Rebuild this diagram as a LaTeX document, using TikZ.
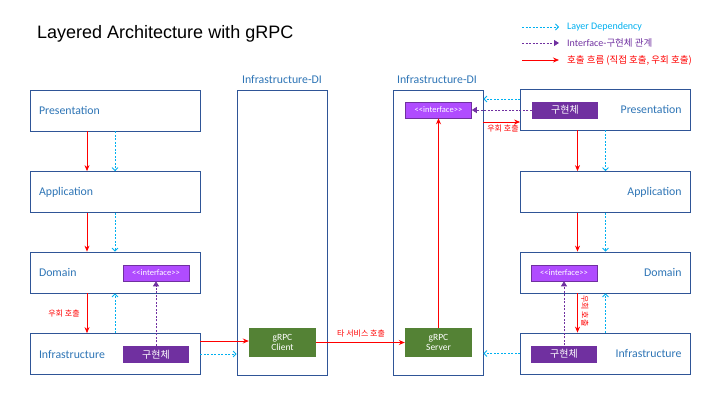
\documentclass[tikz,border=0pt]{standalone}
\usepackage{fontspec}
\setmainfont{Carlito}
\newfontfamily\titlefont{Liberation Sans}
\newfontfamily\kr{Noto Sans CJK KR}
\usetikzlibrary{arrows.meta}
\definecolor{boxborder}{HTML}{2F5597}
\definecolor{lblue}{HTML}{2E75B6}
\definecolor{dcyan}{HTML}{00B0F0}
\definecolor{dred}{HTML}{FF0000}
\definecolor{dpurple}{HTML}{7030A0}
\definecolor{lpurple}{HTML}{B04CFF}
\definecolor{dgreen}{HTML}{548235}
\tikzset{
  layerL/.style={draw=boxborder, line width=0.8pt, minimum width=170pt, minimum height=41pt,
    text width=152pt, align=left, inner xsep=9pt, font=\fontsize{11.8}{13}\selectfont, text=lblue},
  layerR/.style={layerL, align=right},
  dibox/.style={draw=boxborder, line width=0.8pt, minimum width=90pt, minimum height=285pt, inner sep=0pt},
  dilabel/.style={font=\fontsize{11.8}{13}\selectfont, text=lblue},
  iface/.style={draw=dpurple, line width=0.6pt, fill=lpurple, minimum width=66pt, minimum height=16pt, inner sep=0pt,
    text=white, font=\fontsize{8.5}{9}\selectfont},
  impl/.style={fill=dpurple, minimum width=66pt, minimum height=17pt, inner sep=0pt, text=white, font=\kr\fontsize{10}{11}\selectfont},
  grpc/.style={fill=dgreen, minimum width=67pt, minimum height=29pt, inner sep=0pt, text=white, align=center,
    font=\fontsize{9.5}{10.5}\selectfont},
  redarr/.style={draw=dred, line width=0.8pt, -{Stealth[length=6pt,width=5pt]}},
  cyanarr/.style={draw=dcyan, line width=0.8pt, dash pattern=on 2pt off 1.5pt, -{Straight Barb[length=3pt,width=6pt]}},
  purparr/.style={draw=dpurple, line width=0.8pt, dash pattern=on 2pt off 1.5pt, -{Triangle[length=5pt,width=6pt]}},
  redlbl/.style={text=dred, font=\kr\fontsize{8}{9}\selectfont, inner sep=1pt},
  leglbl/.style={anchor=west, font=\fontsize{10}{11}\selectfont, inner sep=0pt}
}
\begin{document}
\begin{tikzpicture}[x=1pt,y=-1pt]
\useasboundingbox[fill=white] (0,0) rectangle (720,405);

% title
\node[anchor=west, inner sep=0pt, font=\titlefont\fontsize{18}{21}\selectfont] (title) at (37,34) {Layered Architecture with gRPC};

% legend
\coordinate (l1s) at (522,27); \coordinate (l1e) at (559,27);
\coordinate (l2s) at (522,43); \coordinate (l2e) at (559,43);
\coordinate (l3s) at (522,60); \coordinate (l3e) at (559,60);
\draw[cyanarr] (l1s) -- (l1e);
\draw[purparr] (l2s) -- (l2e);
\draw[redarr] (l3s) -- (l3e);
\node[leglbl, text=dcyan] (lt1) at (567,27) {Layer Dependency};
\node[leglbl, text=dpurple] (lt2) at (567,43) {Interface-{\kr\fontsize{9.5}{11}\selectfont 구현체 관계}};
\node[leglbl, text=dred, font=\kr\fontsize{9.5}{11}\selectfont] (lt3) at (567,60) {호출 흐름 (직접 호출, 우회 호출)};

% left column
\node[layerL] (lp) at (115,110.5) {Presentation};
\node[layerL] (la) at (115,192) {Application};
\node[layerL] (ld) at (115,272.5) {Domain};
\node[layerL] (li) at (115,354) {Infrastructure};
\node[iface] (lif) at (156,273) {{<}{<}interface{>}{>}};
\node[impl] (lim) at (156,354.5) {구현체};

\draw[redarr] ([xshift=-28pt]lp.south) -- ([xshift=-28pt]la.north);
\draw[cyanarr] (lp.south) -- (la.north);
\draw[redarr] ([xshift=-28pt]la.south) -- ([xshift=-28pt]ld.north);
\draw[cyanarr] (la.south) -- (ld.north);
\draw[redarr] ([xshift=-28pt]ld.south) -- ([xshift=-28pt]li.north);
\draw[cyanarr] (li.north) -- (ld.south);
\draw[purparr] (lim.north) -- (lif.south);
\node[redlbl] (lw) at (64,313) {우회 호출};

% left DI
\node[dibox] (dl) at (282,232.5) {};
\node[dilabel] (dlt) at (282,79) {Infrastructure-DI};
\node[grpc] (cli) at (282.5,342.5) {gRPC\\Client};
\draw[redarr] ([yshift=13pt]li.east) -- ([yshift=13pt]li.east -| cli.west);
\draw[cyanarr] (li.east) -- (li.east -| dl.west);

% right DI
\node[dibox] (dr) at (438,232.5) {};
\node[dilabel] (drt) at (437,79) {Infrastructure-DI};
\node[iface] (rif) at (438.5,110) {{<}{<}interface{>}{>}};
\node[grpc] (srv) at (438.5,342.5) {gRPC\\Server};
\draw[redarr] (cli.east) -- (srv.west);
\node[redlbl] (tl) at (361,333) {타 서비스 호출};
\draw[redarr] (srv.north) -- (rif.south);

% right column
\node[layerR] (rp) at (605.5,109.5) {Presentation};
\node[layerR] (ra) at (605.5,192) {Application};
\node[layerR] (rd) at (605.5,272.5) {Domain};
\node[layerR] (ri) at (605.5,353.5) {Infrastructure};
\node[impl] (rpim) at (565,110) {구현체};
\node[iface] (rif2) at (564,273) {{<}{<}interface{>}{>}};
\node[impl] (rim) at (564,354) {구현체};

\draw[cyanarr] ([yshift=10.5pt]rp.west) -- ([yshift=10.5pt]rp.west -| dr.east);
\draw[purparr] (rpim.west) -- (rpim.west -| rif.east);
\draw[redarr] ([yshift=-12.5pt]rp.west -| dr.east) -- ([yshift=-12.5pt]rp.west);
\node[redlbl] (rw1) at (503,128.5) {우회 호출};

\draw[redarr] ([xshift=-28pt]rp.south) -- ([xshift=-28pt]ra.north);
\draw[cyanarr] (rp.south) -- (ra.north);
\draw[redarr] ([xshift=-28pt]ra.south) -- ([xshift=-28pt]rd.north);
\draw[cyanarr] (ra.south) -- (rd.north);
\draw[redarr] ([xshift=-28pt]rd.south) -- ([xshift=-28pt]ri.north);
\draw[cyanarr] (ri.north) -- (rd.south);
\draw[purparr] (rim.north) -- (rif2.south);
\node[redlbl, rotate=-90] (rw2) at (585,311) {우회 호출};
\draw[cyanarr] (ri.west) -- (ri.west -| dr.east);
\end{tikzpicture}
\end{document}
